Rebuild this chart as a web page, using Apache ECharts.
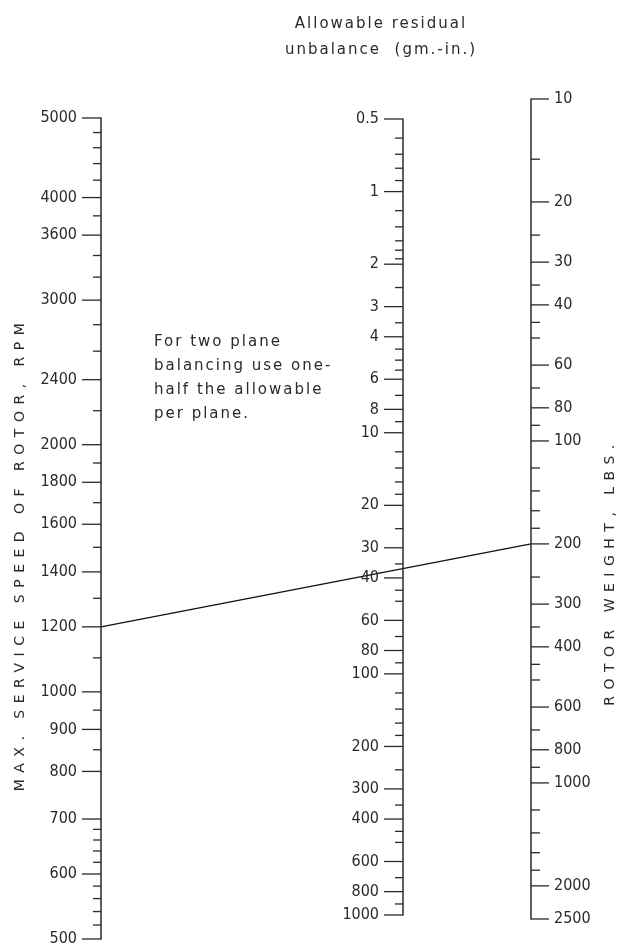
<!DOCTYPE html>
<html><head><meta charset="utf-8">
<script src="https://cdn.jsdelivr.net/npm/echarts@6/dist/echarts.min.js"></script>
<style>html,body{margin:0;padding:0;background:#fff}#c{width:628px;height:947px}</style>
</head><body><div id="c"></div>
<script>
// ---- data ----
const rpmMajor = [500, 600, 700, 800, 900, 1000, 1200, 1400, 1600, 1800, 2000, 2400, 3000, 3600, 4000, 5000];
const rpmMinor = [520, 540, 560, 580, 620, 640, 660, 680, 850, 950, 1100, 1300, 1500, 1700, 1900, 2200, 2600, 2800, 3200, 3400, 3800, 4200, 4400, 4600, 4800];
const unbalMajor = [0.5, 1, 2, 3, 4, 6, 8, 10, 20, 30, 40, 60, 80, 100, 200, 300, 400, 600, 800, 1000];
const unbalMinor = [0.6, 0.7, 0.8, 0.9, 1.2, 1.4, 1.6, 1.75, 1.9, 2.5, 3.5, 4.5, 5, 5.5, 7, 9, 12, 14, 16, 18, 25, 35, 45, 50, 70, 90, 120, 140, 160, 180, 250, 350, 450, 500, 700, 900];
const weightMajor = [10, 20, 30, 40, 60, 80, 100, 200, 300, 400, 600, 800, 1000, 2000, 2500];
const weightMinor = [15, 25, 35, 45, 50, 70, 90, 120, 140, 160, 180, 250, 350, 450, 500, 700, 900, 1200, 1400, 1600, 1800];
const exampleRpm = 1200;
const exampleWeight = 200;
const topTitle = ['Allowable residual', 'unbalance  (gm.-in.)'];
const noteLines = ['For two plane', 'balancing use one-', 'half the allowable', 'per plane.'];
const leftTitle = 'MAX. SERVICE SPEED OF ROTOR, RPM';
const rightTitle = 'ROTOR WEIGHT, LBS.';

// ---- chart ----
const INK = '#2a2a2a';
const chart = echarts.init(document.getElementById('c'), null, {renderer: 'canvas'});
try {
  const zr = chart.getZr();
  zr.painter.getLayer(5).ctx.letterSpacing = '2px';
  zr.painter.getLayer(6).ctx.letterSpacing = '6.5px';
} catch (e) {}

function yAx(gi, min, max, inverse) {
  return {gridIndex: gi, type: 'log', min: min, max: max, inverse: inverse, position: 'left',
    axisLine: {show: true, onZero: false, lineStyle: {color: INK, width: 1.5}},
    axisTick: {show: false}, axisLabel: {show: false}, splitLine: {show: false}};
}
function tickSeries(gi, values, len, side, labeled) {
  return {
    type: 'custom', xAxisIndex: gi, yAxisIndex: gi, silent: true, clip: false, animation: false,
    data: values.map(v => [0, v]),
    renderItem: function (params, api) {
      const v = api.value(1);
      const p = api.coord([0, v]);
      const x2 = p[0] + side * len;
      const ch = [{type: 'line', shape: {x1: p[0], y1: p[1], x2: x2, y2: p[1]},
        style: {stroke: INK, lineWidth: 1.3}}];
      if (labeled) {
        ch.push({type: 'text', x: x2 + side * 5, y: p[1],
          style: {text: String(v), fill: INK, fontSize: 16,
            fontFamily: "'DejaVu Sans Condensed', 'DejaVu Sans', sans-serif",
            align: side < 0 ? 'right' : 'left', verticalAlign: 'middle'}});
      }
      return {type: 'group', children: ch};
    }
  };
}

const txtFont = "15px 'DejaVu Sans', sans-serif";
const capFont = "14px 'DejaVu Sans', sans-serif";
const graphics = [];
topTitle.forEach((t, i) => graphics.push({type: 'text', zlevel: 5, x: 381, y: 24 + i * 26,
  style: {text: t, font: txtFont, fill: INK, align: 'center', verticalAlign: 'middle', textAlign: 'center', textVerticalAlign: 'middle'}}));
noteLines.forEach((t, i) => graphics.push({type: 'text', zlevel: 5, x: 154, y: 342 + i * 24,
  style: {text: t, font: txtFont, fill: INK, align: 'left', verticalAlign: 'middle', textAlign: 'left', textVerticalAlign: 'middle'}}));
graphics.push({type: 'text', zlevel: 6, x: 20, y: 554, rotation: Math.PI / 2,
  style: {text: leftTitle, font: capFont, fill: INK, align: 'center', verticalAlign: 'middle', textAlign: 'center', textVerticalAlign: 'middle'}});
graphics.push({type: 'text', zlevel: 6, x: 610, y: 572, rotation: Math.PI / 2,
  style: {text: rightTitle, font: capFont, fill: INK, align: 'center', verticalAlign: 'middle', textAlign: 'center', textVerticalAlign: 'middle'}});

chart.setOption({
  animation: false,
  backgroundColor: '#fff',
  grid: [
    {left: 101, top: 118, width: 1, height: 821, outerBoundsMode: 'none'},
    {left: 403, top: 119, width: 1, height: 796, outerBoundsMode: 'none'},
    {left: 531, top: 99, width: 1, height: 820, outerBoundsMode: 'none'}
  ],
  xAxis: [0, 1, 2].map(i => ({gridIndex: i, type: 'value', min: 0, max: 1, show: false})),
  yAxis: [yAx(0, 500, 5000, false), yAx(1, 0.5, 1000, true), yAx(2, 10, 2500, true)],
  series: [
    tickSeries(0, rpmMajor, 19, -1, true), tickSeries(0, rpmMinor, 8, -1, false),
    tickSeries(1, unbalMajor, 19, -1, true), tickSeries(1, unbalMinor, 8, -1, false),
    tickSeries(2, weightMajor, 18, 1, true), tickSeries(2, weightMinor, 9, 1, false)
  ],
  graphic: {elements: graphics}
});

const pA = chart.convertToPixel({gridIndex: 0}, [0, exampleRpm]);
const pB = chart.convertToPixel({gridIndex: 2}, [0, exampleWeight]);
chart.setOption({graphic: {elements: [{id: 'keyline', type: 'line',
  shape: {x1: pA[0], y1: pA[1], x2: pB[0], y2: pB[1]}, style: {stroke: '#111', lineWidth: 1.2}}]}});
</script></body></html>
